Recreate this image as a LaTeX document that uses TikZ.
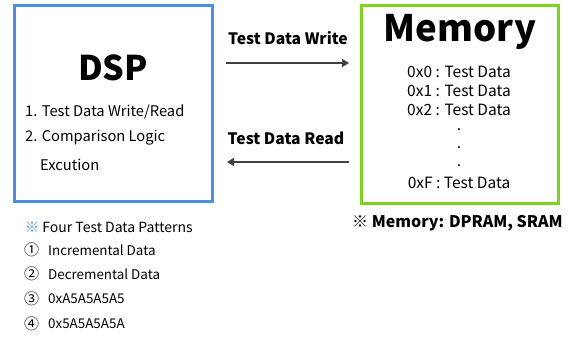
\documentclass[tikz,border=0pt]{standalone}
\usepackage{fontspec}
\setmainfont{Noto Sans CJK KR}
\usetikzlibrary{arrows.meta}
\definecolor{dspblue}{RGB}{74,144,226}
\definecolor{memgreen}{RGB}{126,211,33}
\definecolor{arrgray}{RGB}{64,64,64}
\begin{document}
\begin{tikzpicture}[x=1pt,y=-1pt,
  box/.style={draw,line width=3pt},
  body/.style={font=\fontsize{14.7}{16}\selectfont,inner sep=0pt},
  memtxt/.style={font=\fontsize{15.5}{17}\selectfont,inner sep=0pt},
  dotmark/.style={font=\fontsize{15.5}{17}\selectfont,inner sep=0pt,text height=2pt,text depth=0pt,anchor=base},
  pat/.style={font=\fontsize{13.4}{15}\selectfont,inner sep=0pt},
  lbl/.style={font=\fontsize{15.7}{17}\selectfont\bfseries,inner sep=0pt},
  arr/.style={arrgray,line width=2.5pt,-{Triangle[length=7pt,width=8pt]}}]
\useasboundingbox (0,0) rectangle (577,340);
\node[box,draw=dspblue,minimum width=198pt,minimum height=196pt,anchor=north west] (dsp) at (13,4) {};
\node[box,draw=memgreen,minimum width=197pt,minimum height=198pt,anchor=north west] (mem) at (360,4) {};
\node[inner sep=0pt,font=\fontsize{34}{36}\selectfont\bfseries] (dsptitle) at (113,68) {DSP};
\node[body,anchor=west] (d1) at (25,112) {1. Test Data Write/Read};
\node[body,anchor=west] (d2) at (25,138) {2. Comparison Logic};
\node[body,anchor=west] (d3) at (40,165) {Excution};
\node[inner sep=0pt,font=\fontsize{36.5}{38}\selectfont\bfseries] (memtitle) at (460,32) {Memory};
\node[memtxt] (m0) at (459,72) {0x0 : Test Data};
\node[memtxt] (m1) at (459,91) {0x1 : Test Data};
\node[memtxt] (m2) at (459,110) {0x2 : Test Data};
\node[dotmark] (dt1) at (459,130) {.};
\node[dotmark] (dt2) at (459,148) {.};
\node[dotmark] (dt3) at (459,166) {.};
\node[memtxt] (mf) at (459,183) {0xF : Test Data};
\coordinate (w1) at (226,63);
\coordinate (w2) at (349,63);
\coordinate (r1) at (349,162);
\coordinate (r2) at (227,162);
\draw[arr] (w1) -- (w2);
\draw[arr] (r1) -- (r2);
\node[lbl] (wl) at (288,38) {Test Data Write};
\node[lbl] (rl) at (286,138) {Test Data Read};
\node[lbl,anchor=west,font=\fontsize{16}{18}\selectfont\bfseries] (note) at (352,223) {※ Memory: DPRAM, SRAM};
\node[pat,anchor=west,font=\fontsize{14}{16}\selectfont] (p0) at (25,227) {\textcolor{dspblue}{※} Four Test Data Patterns};
\node[pat,anchor=west,font=\fontsize{15}{16}\selectfont] (c1) at (24,250) {①};
\node[pat,anchor=west,font=\fontsize{15}{16}\selectfont] (c2) at (24,274) {②};
\node[pat,anchor=west,font=\fontsize{15}{16}\selectfont] (c3) at (24,299) {③};
\node[pat,anchor=west,font=\fontsize{15}{16}\selectfont] (c4) at (24,324) {④};
\node[pat,anchor=west] (p1) at (48,250) {Incremental Data};
\node[pat,anchor=west] (p2) at (48,274) {Decremental Data};
\node[pat,anchor=west] (p3) at (48,299) {0xA5A5A5A5};
\node[pat,anchor=west] (p4) at (48,324) {0x5A5A5A5A};
\end{tikzpicture}
\end{document}
